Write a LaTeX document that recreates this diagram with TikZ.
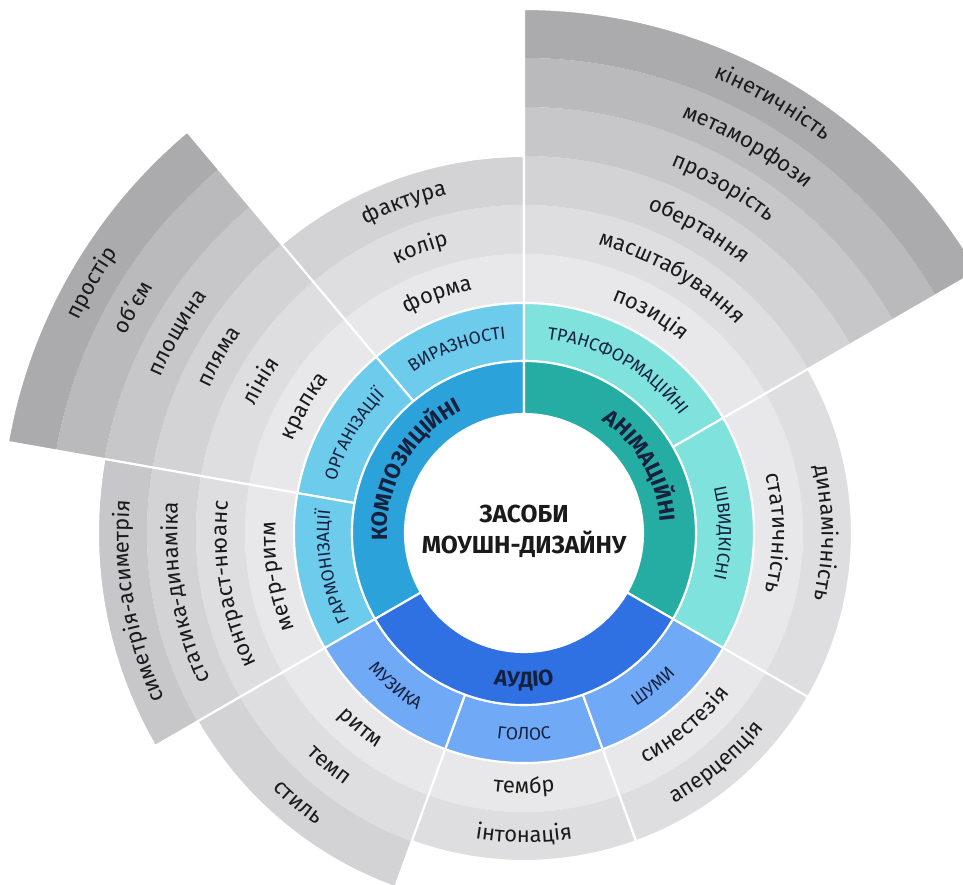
\documentclass[tikz,border=0pt]{standalone}
\usepackage{fontspec}
\setmainfont{Fira Sans}
\usetikzlibrary{decorations.text}

\definecolor{compo}{HTML}{2CA2DB}
\definecolor{compolt}{HTML}{6DCBEC}
\definecolor{anim}{HTML}{26ADA3}
\definecolor{animlt}{HTML}{7FE2DC}
\definecolor{audio}{HTML}{2F70E2}
\definecolor{audiolt}{HTML}{70A9F6}
\definecolor{ring1}{HTML}{E8E8EA}
\definecolor{ring2}{HTML}{DEDEE0}
\definecolor{ring3}{HTML}{D3D3D5}
\definecolor{ring4}{HTML}{C7C7C9}
\definecolor{ring5}{HTML}{BABABC}
\definecolor{ring6}{HTML}{ABABAD}
\definecolor{ink}{HTML}{1A1A1A}
\definecolor{navy}{HTML}{15213F}

% annular sector: inner radius, outer radius, from angle, to angle, options
\newcommand\ringsector[5]{%
  \path[#5] (#3:#1) arc[start angle=#3,end angle=#4,radius=#1]
    -- (#4:#2) arc[start angle=#4,end angle=#3,radius=#2] -- cycle;}

% text set along an arc: baseline radius, start angle, end angle, format, text
\newcommand\arctext[5]{%
  \path[decorate,decoration={text along path,text align=center,text={|#4|#5}}]
    (#2:#1) arc[start angle=#2,end angle=#3,radius=#1];}

\newcommand\bigfont{\bfseries\fontsize{12.5}{12.5}\selectfont\color{navy}}
\newcommand\midfont{\fontsize{10}{10}\selectfont\color{navy}}
\newcommand\grayfont{\fontsize{12.5}{12.5}\selectfont\color{ink}}

% label in grey ring k of a sector; clockwise = tops outward, counter-clockwise = tops inward
\newcommand\graylabel[4]{%
  \pgfmathsetmacro\rr{230+49*(#1-0.5)+((#3>#2) ? 6 : -6)}%
  \arctext{\rr}{#2}{#3}{\grayfont}{#4}}

\begin{document}
\begin{tikzpicture}[x=0.02cm,y=0.02cm,
  sep/.style={draw=white,line width=1.2pt}]
\useasboundingbox (-524,-352) rectangle (439,533);

% grey outer rings of every sector
\foreach \a/\b/\n in {90/130/3,130/170/6,170/210/4,30/90/6,-30/30/2,210/250/3,250/290/2,290/330/2}{
  \foreach \k in {1,...,\n}{
    \pgfmathsetmacro\rin{230+49*(\k-1)}
    \pgfmathsetmacro\rout{230+49*\k}
    \ringsector{\rin}{\rout}{\a}{\b}{fill=ring\k}
  }
  \pgfmathsetmacro\rmax{230+49*\n}
  \ringsector{230}{\rmax}{\a}{\b}{sep}
}

% middle ring
\ringsector{172}{230}{90}{130}{fill=compolt,sep}
\ringsector{172}{230}{130}{170}{fill=compolt,sep}
\ringsector{172}{230}{170}{210}{fill=compolt,sep}
\ringsector{172}{230}{30}{90}{fill=animlt,sep}
\ringsector{172}{230}{-30}{30}{fill=animlt,sep}
\ringsector{172}{230}{210}{250}{fill=audiolt,sep}
\ringsector{172}{230}{250}{290}{fill=audiolt,sep}
\ringsector{172}{230}{290}{330}{fill=audiolt,sep}

% inner ring
\ringsector{119}{172}{90}{210}{fill=compo,sep}
\ringsector{119}{172}{-30}{90}{fill=anim,sep}
\ringsector{119}{172}{210}{330}{fill=audio,sep}

% centre
\fill[white] (0,0) circle[radius=119];
\node[align=center,font=\bfseries\fontsize{14}{17.5}\selectfont,text=ink] (title) at (0,2)
  {ЗАСОБИ\\МОУШН-ДИЗАЙНУ};

% inner ring labels
\arctext{137}{210}{90}{\bigfont}{КОМПОЗИЦІЙНІ}
\arctext{137}{90}{-30}{\bigfont}{АНІМАЦІЙНІ}
\arctext{154}{210}{330}{\bigfont}{АУДІО}

% middle ring labels
\arctext{195}{130}{90}{\midfont}{ВИРАЗНОСТІ}
\arctext{195}{170}{130}{\midfont}{ОРГАНІЗАЦІЇ}
\arctext{195}{210}{170}{\midfont}{ГАРМОНІЗАЦІЇ}
\arctext{195}{90}{30}{\midfont}{ТРАНСФОРМАЦІЙНІ}
\arctext{195}{30}{-30}{\midfont}{ШВИДКІСНІ}
\arctext{207}{210}{250}{\midfont}{МУЗИКА}
\arctext{207}{250}{290}{\midfont}{ГОЛОС}
\arctext{207}{290}{330}{\midfont}{ШУМИ}

% grey ring labels
\graylabel{1}{130}{90}{форма}
\graylabel{2}{130}{90}{колір}
\graylabel{3}{130}{90}{фактура}

\graylabel{1}{170}{130}{крапка}
\graylabel{2}{170}{130}{лінія}
\graylabel{3}{170}{130}{пляма}
\graylabel{4}{170}{130}{площина}
\graylabel{5}{170}{130}{об’єм}
\graylabel{6}{170}{130}{простір}

\graylabel{1}{210}{170}{метр-ритм}
\graylabel{2}{210}{170}{контраст-нюанс}
\graylabel{3}{210}{170}{статика-динаміка}
\graylabel{4}{210}{170}{симетрія-асиметрія}

\graylabel{1}{90}{30}{позиція}
\graylabel{2}{90}{30}{масштабування}
\graylabel{3}{90}{30}{обертання}
\graylabel{4}{90}{30}{прозорість}
\graylabel{5}{90}{30}{метаморфози}
\graylabel{6}{90}{30}{кінетичність}

\graylabel{1}{30}{-30}{статичність}
\graylabel{2}{30}{-30}{динамічність}

\graylabel{1}{210}{250}{ритм}
\graylabel{2}{210}{250}{темп}
\graylabel{3}{210}{250}{стиль}

\graylabel{1}{250}{290}{тембр}
\graylabel{2}{250}{290}{інтонація}

\graylabel{1}{290}{330}{синестезія}
\graylabel{2}{290}{330}{аперцепція}
\end{tikzpicture}
\end{document}
